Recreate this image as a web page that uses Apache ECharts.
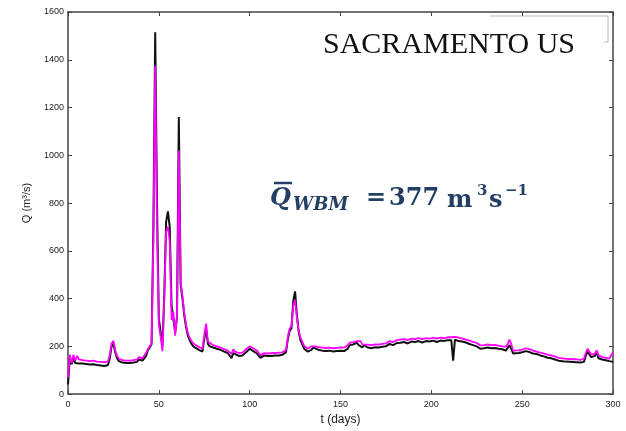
<!DOCTYPE html>
<html>
<head>
<meta charset="utf-8">
<script src="https://cdn.jsdelivr.net/npm/echarts@6/dist/echarts.min.js"></script>
<style>
  html, body { margin: 0; padding: 0; background: #fff; }
  #chart { width: 626px; height: 431px; }
</style>
</head>
<body>
<div id="chart"></div>
<script>
// Daily discharge at Sacramento: observed (black) and WBM simulation (magenta)
const days = [
  0, 1, 2, 3, 4, 5, 6, 8, 10, 12, 14, 16, 18, 20, 22, 23, 24, 25, 26, 27, 28,
  30, 32, 34, 36, 38, 39, 40, 41, 42, 43, 44, 45, 46, 47, 48, 49, 50, 51, 52,
  53, 54, 55, 56, 57, 58, 59, 60, 61, 62, 63, 64, 65, 66, 67, 68, 69, 70, 72,
  74, 75, 76, 77, 78, 80, 82, 84, 86, 88, 90, 91, 92, 94, 96, 98, 100, 102,
  104, 106, 107, 108, 110, 112, 114, 116, 118, 120, 121, 122, 123, 124, 125,
  126, 127, 128, 130, 132, 133, 134, 135, 136, 138, 140, 142, 144, 146, 148,
  150, 152, 154, 155, 157, 158, 159, 160, 161, 162, 163, 165, 167, 169, 171,
  173, 175, 177, 179, 181, 183, 185, 187, 189, 191, 193, 195, 197, 199, 201,
  203, 205, 207, 209, 211, 212, 213, 215, 217, 219, 221, 223, 225, 227, 229,
  231, 233, 235, 237, 239, 241, 242, 243, 244, 245, 246, 248, 250, 252, 254,
  256, 258, 260, 262, 264, 266, 268, 270, 272, 274, 276, 278, 280, 282, 284,
  285, 286, 287, 288, 289, 290, 291, 292, 294, 296, 298, 300
];
const observed = [
  40, 150, 125, 150, 130, 135, 128, 128, 126, 124, 125, 122, 120, 118, 122, 150, 200, 213, 175, 150, 138,
  132, 130, 130, 132, 135, 145, 148, 140, 142, 160, 185, 195, 210, 700, 1515, 800, 315, 260, 200,
  420, 720, 765, 700, 370, 370, 260, 320, 1160, 460, 400, 330, 280, 245, 225, 210, 200, 195, 185,
  178, 230, 275, 210, 200, 195, 190, 185, 178, 172, 150, 172, 165, 160, 162, 175, 190, 180,
  170, 152, 155, 162, 160, 160, 162, 162, 165, 175, 230, 265, 275, 390, 430,
  330, 260, 225, 190, 178, 170, 185, 195, 188, 185, 182, 180, 182, 178, 180,
  182, 180, 190, 205, 208, 200, 215, 205, 213, 196, 205, 195, 192, 196, 195,
  198, 200, 210, 205, 214, 215, 218, 212, 220, 218, 222, 216, 222, 220, 224,
  218, 224, 222, 226, 225, 140, 228, 222, 220, 216, 210, 205, 200, 190, 192,
  195, 192, 193, 190, 188, 182, 184, 205, 190, 170, 168, 172, 175, 180, 176,
  170, 168, 162, 158, 152, 150, 145, 140, 138, 136, 135, 134, 133, 132, 135,
  160, 178, 172, 155, 150, 160, 175, 150, 145, 142, 138, 135
];
const simulated = [
  70, 165, 130, 165, 140, 160, 145, 142, 140, 138, 140, 136, 135, 134, 136, 165, 212, 223, 185, 160, 148,
  142, 140, 140, 142, 145, 155, 160, 150, 152, 172, 190, 200, 212, 650, 1375, 700, 290, 240, 180,
  400, 680, 700, 640, 310, 345, 245, 330, 1020, 470, 410, 340, 290, 255, 235, 222, 212, 207, 197,
  190, 245, 295, 220, 212, 205, 200, 195, 188, 182, 168, 188, 178, 172, 174, 188, 200, 192,
  182, 162, 165, 172, 170, 172, 172, 174, 175, 185, 240, 275, 285, 370, 395,
  320, 265, 235, 202, 190, 182, 200, 208, 200, 197, 195, 193, 195, 192, 194,
  196, 195, 205, 215, 218, 212, 222, 215, 222, 208, 215, 207, 205, 208, 207,
  210, 212, 222, 218, 226, 228, 230, 226, 232, 230, 234, 230, 234, 232, 236,
  232, 236, 234, 238, 238, 230, 240, 236, 232, 228, 224, 219, 214, 204, 205,
  208, 205, 206, 203, 200, 198, 210, 228, 210, 182, 178, 183, 186, 192, 188,
  182, 178, 174, 170, 165, 162, 158, 152, 150, 148, 147, 146, 145, 143, 148,
  172, 190, 182, 165, 158, 170, 183, 162, 155, 152, 149, 175
];
const xTicks = [0, 50, 100, 150, 200, 250, 300];
const yTicks = [0, 200, 400, 600, 800, 1000, 1200, 1400, 1600];

const pairs = (vals) => days.map((d, i) => [d, vals[i]]);

const axisColor = '#444';
const labelStyle = {
  color: '#222', fontSize: 9, fontFamily: 'Liberation Sans, Arial, sans-serif',
  formatter: (v) => String(v)
};
const navy = '#233f63';
const mathFont = 'DejaVu Serif, serif';

const chart = echarts.init(document.getElementById('chart'), null, { renderer: 'canvas' });

const xBase = {
  type: 'value', min: xTicks[0], max: xTicks[xTicks.length - 1], interval: xTicks[1] - xTicks[0],
  splitLine: { show: false },
  axisLine: { show: true, onZero: false, lineStyle: { color: axisColor, width: 1.5 } },
  axisTick: { show: true, inside: true, length: 4, lineStyle: { color: axisColor } }
};
const yBase = {
  type: 'value', min: yTicks[0], max: yTicks[yTicks.length - 1], interval: yTicks[1] - yTicks[0],
  splitLine: { show: false },
  axisLine: { show: true, onZero: false, lineStyle: { color: axisColor, width: 1.5 } },
  axisTick: { show: true, inside: true, length: 4, lineStyle: { color: axisColor } }
};

chart.setOption({
  animation: false,
  backgroundColor: '#fff',
  grid: { left: 68, right: 13, top: 12, bottom: 31, containLabel: false },
  xAxis: [
    Object.assign({}, xBase, {
      position: 'bottom',
      axisLabel: Object.assign({ margin: 6 }, labelStyle),
      name: 't (days)', nameLocation: 'middle', nameGap: 19,
      nameTextStyle: { color: '#222', fontSize: 12, fontFamily: 'Liberation Sans, Arial, sans-serif' }
    }),
    Object.assign({}, xBase, { position: 'top', axisLabel: { show: false } })
  ],
  yAxis: [
    Object.assign({}, yBase, {
      position: 'left',
      axisLabel: Object.assign({ margin: 4 }, labelStyle),
      name: 'Q (m³/s)', nameLocation: 'middle', nameGap: 36,
      nameTextStyle: { color: '#222', fontSize: 11, fontFamily: 'Liberation Sans, Arial, sans-serif' }
    }),
    Object.assign({}, yBase, { position: 'right', axisLabel: { show: false } })
  ],
  series: [
    {
      name: 'Observed', type: 'line', data: pairs(observed), showSymbol: false,
      lineStyle: { color: '#111', width: 2 }, z: 2
    },
    {
      name: 'WBM', type: 'line', data: pairs(simulated), showSymbol: false,
      lineStyle: { color: '#ff00ff', width: 1.8 }, z: 3
    }
  ],
  graphic: [
    // bracket of the boxed corner at the top right
    {
      type: 'polyline', silent: true,
      shape: { points: [[490, 16], [608, 16], [608, 42], [604, 42]] },
      style: { stroke: '#b8b8b8', lineWidth: 1, fill: null }
    },
    {
      type: 'text', left: 323, top: 30, silent: true,
      style: { text: 'SACRAMENTO US', fill: '#111', font: '30px "Liberation Serif", "Times New Roman", serif' }
    },
    // mean discharge annotation
    { type: 'line', silent: true, shape: { x1: 274, y1: 183, x2: 292, y2: 183 }, style: { stroke: navy, lineWidth: 2.5 } },
    { type: 'text', silent: true, x: 270, y: 199, style: { text: 'Q', fill: navy, font: 'italic bold 24px ' + mathFont, verticalAlign: 'middle' } },
    { type: 'text', silent: true, x: 293, y: 205, style: { text: 'WBM', fill: navy, font: 'italic bold 18px ' + mathFont, verticalAlign: 'middle' } },
    { type: 'text', silent: true, x: 366, y: 199, style: { text: '=', fill: navy, font: 'bold 24px ' + mathFont, verticalAlign: 'middle' } },
    { type: 'text', silent: true, x: 389, y: 199, style: { text: '377', fill: navy, font: 'bold 24px ' + mathFont, verticalAlign: 'middle' } },
    { type: 'text', silent: true, x: 447, y: 201, style: { text: 'm', fill: navy, font: 'bold 24px ' + mathFont, verticalAlign: 'middle' } },
    { type: 'text', silent: true, x: 477, y: 191, style: { text: '3', fill: navy, font: 'bold 15px ' + mathFont, verticalAlign: 'middle' } },
    { type: 'text', silent: true, x: 489, y: 201, style: { text: 's', fill: navy, font: 'bold 24px ' + mathFont, verticalAlign: 'middle' } },
    { type: 'text', silent: true, x: 505, y: 191, style: { text: '−1', fill: navy, font: 'bold 15px ' + mathFont, verticalAlign: 'middle' } }
  ]
});
</script>
</body>
</html>
